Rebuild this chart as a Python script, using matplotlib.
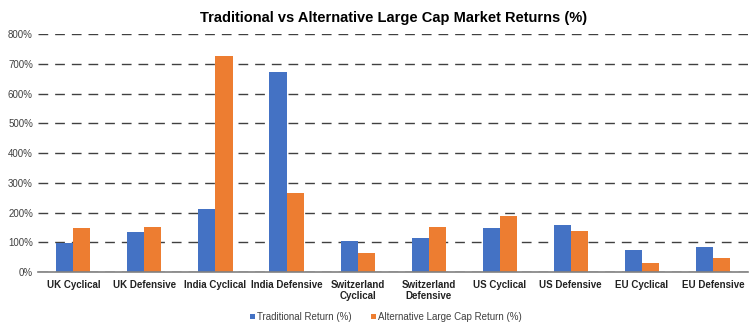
import numpy as np
from matplotlib import pyplot as plt
from matplotlib.ticker import PercentFormatter

categories = ['UK Cyclical', 'UK Defensive', 'India Cyclical', 'India Defensive',
              'Switzerland\nCyclical', 'Switzerland\nDefensive', 'US Cyclical',
              'US Defensive', 'EU Cyclical', 'EU Defensive']
traditional = [98, 134, 213, 674, 105, 116, 148, 160, 76, 85]
alternative = [147, 151, 727, 265, 63, 151, 187, 139, 30, 46]

plt.rcParams['font.family'] = ['Liberation Sans', 'DejaVu Sans']

fig = plt.figure(figsize=(7.56, 3.24), dpi=100)
ax = fig.add_axes([0.05, 0.16, 0.94, 0.735])

x = np.arange(len(categories))
w = 0.24
ax.bar(x - w/2, traditional, w, color='#4472C4', label='Traditional Return (%)', zorder=3)
ax.bar(x + w/2, alternative, w, color='#ED7D31', label='Alternative Large Cap Return (%)', zorder=3)

ax.set_ylim(0, 800)
ax.set_xlim(-0.5, len(categories) - 0.5)
ax.set_yticks(np.arange(0, 801, 100))
ax.yaxis.set_major_formatter(PercentFormatter(decimals=0))
ax.yaxis.grid(True, color='#404040', linestyle=(0, (7, 5)), linewidth=1.0, zorder=0)
ax.set_xticks(x)
ax.set_xticklabels(categories, fontsize=7, fontweight='bold', color='#222222',
                   linespacing=1.1)
ax.tick_params(axis='y', labelsize=7, colors='#404040', length=0)
ax.tick_params(axis='x', length=0, pad=6)
for s in ['top', 'right', 'left']:
    ax.spines[s].set_visible(False)
ax.spines['bottom'].set_color('#808080')
ax.spines['bottom'].set_zorder(4)
ax.spines['bottom'].set_linewidth(1.2)

ax.set_title('Traditional vs Alternative Large Cap Market Returns (%)',
             fontsize=10.5, fontweight='bold', pad=9)
ax.legend(loc='upper center', bbox_to_anchor=(0.49, -0.13), ncol=2, frameon=False,
          fontsize=7, handlelength=0.5, handleheight=0.5, handletextpad=0.2,
          columnspacing=2.0, labelcolor='#404040')

plt.savefig('out.png', dpi=100)
